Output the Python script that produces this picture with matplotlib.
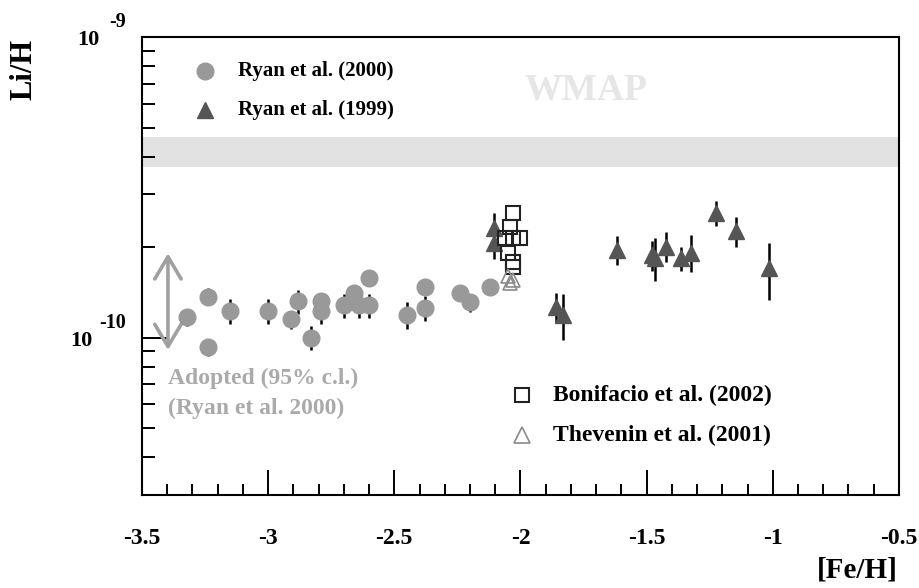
import numpy as np
import matplotlib
matplotlib.use("Agg")
import matplotlib.pyplot as plt
from matplotlib.ticker import MultipleLocator, LogLocator, NullFormatter
from matplotlib.transforms import blended_transform_factory, ScaledTranslation

# Li/H values are given in units of 1e-10
ryan2000_feh = [-3.32, -3.24, -3.24, -3.15, -3.00, -2.91, -2.88, -2.83, -2.79, -2.79,
                -2.70, -2.66, -2.64, -2.60, -2.60, -2.45, -2.38, -2.38, -2.24, -2.20, -2.12]
ryan2000_li = [1.17, 1.37, 0.93, 1.23, 1.23, 1.15, 1.32, 1.00, 1.32, 1.23,
               1.28, 1.41, 1.28, 1.28, 1.58, 1.19, 1.47, 1.26, 1.41, 1.31, 1.48]
ryan2000_err = [0.08, 0.09, 0.06, 0.12, 0.12, 0.08, 0.12, 0.09, 0.06, 0.12,
                0.12, 0.05, 0.12, 0.12, 0.05, 0.12, 0.05, 0.12, 0.05, 0.09, 0.05]

ryan1999_feh = [-2.106, -2.106, -1.861, -1.831, -1.616, -1.478, -1.467, -1.425,
                -1.365, -1.325, -1.226, -1.147, -1.015]
ryan1999_li = [2.32, 2.07, 1.27, 1.19, 1.96, 1.88, 1.84, 2.01, 1.84, 1.92, 2.60, 2.26, 1.70]
ryan1999_err = [0.27, 0.24, 0.14, 0.21, 0.22, 0.21, 0.30, 0.23, 0.17, 0.27, 0.24, 0.26, 0.36]

bonifacio_feh = [-2.03, -2.04, -2.06, -2.03, -2.00, -2.05, -2.03, -2.03]
bonifacio_li = [2.60, 2.34, 2.15, 2.15, 2.15, 1.92, 1.79, 1.72]

thevenin_feh = [-2.05, -2.03, -2.04]
thevenin_li = [1.60, 1.56, 1.52]

wmap_band = [3.70, 4.64]
adopted_range = [0.91, 1.91]
adopted_feh = -3.397

SCALE = 1e-10
FONT = "Liberation Serif"

fig = plt.figure(figsize=(9.2, 5.88), dpi=100)
ax = fig.add_axes([0.1543, 0.1582, 0.8228, 0.7789])

ax.set_yscale("log")
ax.set_xlim(-3.5, -0.5)
ax.set_ylim(3e-11, 1e-9)

# WMAP band
ax.axhspan(wmap_band[0] * SCALE, wmap_band[1] * SCALE, color="#e2e2e2", lw=0, zorder=0)
ax.text(-1.742, 6.67e-10, "WMAP", color="#e6e6e6", fontsize=27, fontweight="bold",
        family=FONT, ha="center", va="center", zorder=1)

# error bars below markers
ax.errorbar(ryan2000_feh, np.array(ryan2000_li) * SCALE, yerr=np.array(ryan2000_err) * SCALE,
            fmt="none", ecolor="black", elinewidth=1.8, capsize=0, zorder=2)
ax.errorbar(ryan1999_feh, np.array(ryan1999_li) * SCALE, yerr=np.array(ryan1999_err) * SCALE,
            fmt="none", ecolor="black", elinewidth=1.8, capsize=0, zorder=2)

ax.plot(ryan2000_feh, np.array(ryan2000_li) * SCALE, "o", ms=12, color="#999999",
        mec="#999999", zorder=3)
ax.plot(ryan1999_feh, np.array(ryan1999_li) * SCALE, "^", ms=11.5, color="#555555",
        mec="#555555", zorder=3)
ax.plot(bonifacio_feh, np.array(bonifacio_li) * SCALE, "s", ms=9.5, mfc="none",
        mec="#222222", mew=1.5, zorder=4)
ax.plot(thevenin_feh, np.array(thevenin_li) * SCALE, "^", ms=10, mfc="none",
        mec="#8a8a8a", mew=1.2, zorder=4)

# adopted range arrow
ax.annotate("", xy=(adopted_feh, adopted_range[0] * SCALE),
            xytext=(adopted_feh, adopted_range[1] * SCALE),
            arrowprops=dict(arrowstyle="<->,head_length=1.6,head_width=0.95",
                            color="#a0a0a0", lw=2.6, shrinkA=0, shrinkB=0,
                            mutation_scale=10), zorder=2)
ax.text(0.034, 0.2555, "Adopted (95% c.l.)", transform=ax.transAxes, color="#aaaaaa",
        fontsize=17, fontweight="bold", family=FONT, ha="left", va="center")
ax.text(0.034, 0.19, "(Ryan et al. 2000)", transform=ax.transAxes, color="#aaaaaa",
        fontsize=17, fontweight="bold", family=FONT, ha="left", va="center")

# legends
ax.plot([0.0832], [0.9258], "o", ms=12, color="#999999", transform=ax.transAxes, clip_on=False)
ax.plot([0.0832], [0.8406], "^", ms=11.5, color="#555555", transform=ax.transAxes, clip_on=False)
ax.text(0.1268, 0.9258, "Ryan et al. (2000)", transform=ax.transAxes, fontsize=15,
        fontweight="bold", family=FONT, ha="left", va="center")
ax.text(0.1268, 0.8406, "Ryan et al. (1999)", transform=ax.transAxes, fontsize=15,
        fontweight="bold", family=FONT, ha="left", va="center")

ax.plot([0.5016], [0.2183], "s", ms=10.5, mfc="none", mec="#222222", mew=1.5,
        transform=ax.transAxes)
ax.plot([0.5016], [0.131], "^", ms=11.5, mfc="none", mec="#8a8a8a", mew=1.2,
        transform=ax.transAxes)
ax.text(0.543, 0.2183, "Bonifacio et al. (2002)", transform=ax.transAxes, fontsize=17,
        fontweight="bold", family=FONT, ha="left", va="center")
ax.text(0.543, 0.131, "Thevenin et al. (2001)", transform=ax.transAxes, fontsize=17,
        fontweight="bold", family=FONT, ha="left", va="center")

# axes styling
for s in ax.spines.values():
    s.set_linewidth(1.5)
ax.xaxis.set_major_locator(MultipleLocator(0.5))
ax.xaxis.set_minor_locator(MultipleLocator(0.1))
ax.yaxis.set_major_locator(LogLocator(base=10))
ax.yaxis.set_minor_locator(LogLocator(base=10, subs=np.arange(2, 10)))
ax.yaxis.set_major_formatter(NullFormatter())
ax.yaxis.set_minor_formatter(NullFormatter())
ax.tick_params(axis="x", which="major", direction="in", length=18, width=1.4, pad=24,
               labelsize=17)
ax.tick_params(axis="x", which="minor", direction="in", length=8, width=1.4)
ax.tick_params(axis="y", which="major", direction="in", length=18, width=1.4)
ax.tick_params(axis="y", which="minor", direction="in", length=9.5, width=1.4)
ax.set_xticks([-3.5, -3, -2.5, -2, -1.5, -1, -0.5])
ax.set_xticklabels(["-3.5", "-3", "-2.5", "-2", "-1.5", "-1", "-0.5"])
for lbl in ax.get_xticklabels():
    lbl.set_fontfamily(FONT)
    lbl.set_fontweight("bold")

# y labels drawn as mantissa + exponent
ytr = blended_transform_factory(ax.transAxes, ax.transData)
down = ScaledTranslation(0, -3 / 100, fig.dpi_scale_trans)
up = ScaledTranslation(0, 15 / 100, fig.dpi_scale_trans)
for val, exp, xm in [(1e-9, "-9", -0.0555), (1e-10, "-10", -0.0647)]:
    ax.text(xm, val, "10", transform=ytr + down, fontsize=16, fontweight="bold",
            family=FONT, ha="right", va="center", clip_on=False)
    ax.text(-0.0211, val, exp, transform=ytr + up, fontsize=14.5, fontweight="bold",
            family=FONT, ha="right", va="center", clip_on=False)

fig.text(24 / 920, 1 - 69 / 588, "Li/H", rotation=90, fontsize=22, fontweight="bold",
         family=FONT, ha="center", va="center")
fig.text(898 / 920, 1 - 570 / 588, "[Fe/H]", fontsize=21, fontweight="bold",
         family=FONT, ha="right", va="center")

fig.savefig("out.png", dpi=100)
